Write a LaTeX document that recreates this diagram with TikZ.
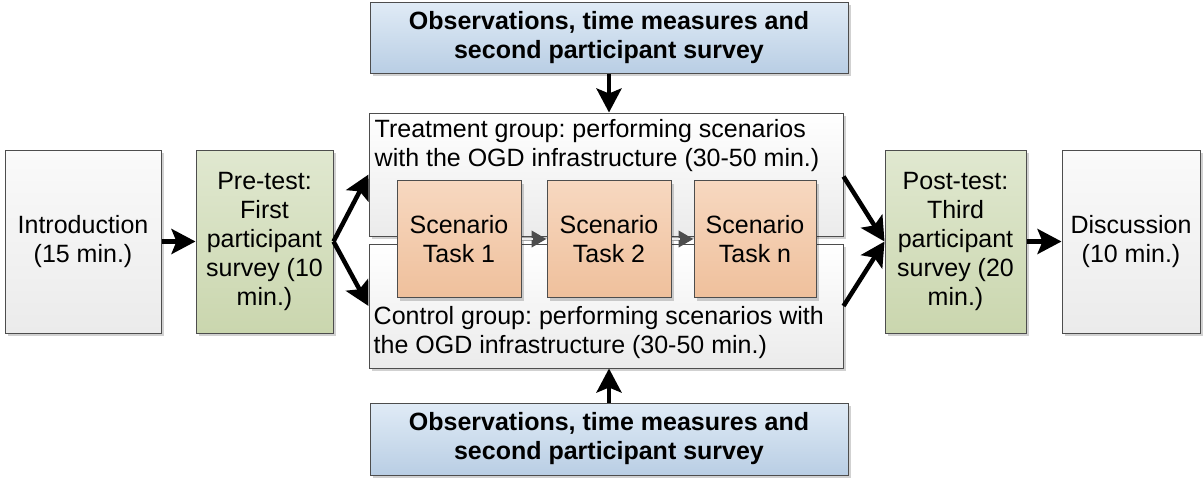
\documentclass[tikz,border=0pt]{standalone}
\usepackage{fontspec}
\setmainfont{Liberation Sans}
\frenchspacing
\usetikzlibrary{arrows.meta,shadows}
\definecolor{bordercol}{HTML}{4D4D4D}
\definecolor{greytop}{HTML}{FAFAFA}
\definecolor{greybot}{HTML}{EBEBEB}
\definecolor{greentop}{HTML}{E0E8D0}
\definecolor{greenbot}{HTML}{CAD6AE}
\definecolor{orangetop}{HTML}{F7D8C0}
\definecolor{orangebot}{HTML}{EFC09C}
\definecolor{bluetop}{HTML}{E0EBF6}
\definecolor{bluebot}{HTML}{B9CEE4}
\definecolor{scenarrow}{HTML}{4D4D4D}
\tikzset{
  basebox/.style={rectangle, draw=bordercol, line width=1pt, inner sep=0pt, align=center,
    font=\fontsize{25}{29}\selectfont,
    drop shadow={shadow xshift=3pt, shadow yshift=-3pt, fill=black, opacity=0.18}},
  greybox/.style={basebox, top color=greytop, bottom color=greybot},
  greenbox/.style={basebox, top color=greentop, bottom color=greenbot},
  orangebox/.style={basebox, top color=orangetop, bottom color=orangebot},
  bluebox/.style={basebox, top color=bluetop, bottom color=bluebot, font=\fontsize{25}{29}\selectfont\bfseries},
  groupbox/.style={basebox, top color=white, bottom color=greybot},
  grouptext/.style={inner sep=0pt, align=left, font=\fontsize{25}{29}\selectfont},
  bigarrow/.style={line width=4.5pt, draw=black, -{Stealth[length=24pt,width=25pt,inset=5pt]}},
  smallarrow/.style={line width=4.2pt, draw=gray!70,
    -{Triangle[length=15pt,width=16pt,color=scenarrow,fill=scenarrow]},
    postaction={draw=white!85!gray, line width=1.4pt, -, shorten >=14pt}}
}
\begin{document}
\begin{tikzpicture}[x=1pt,y=-1pt]
\useasboundingbox (0,0) rectangle (1204,477);
% outer boxes
\node[greybox, minimum width=156pt, minimum height=183pt] (intro) at (83,241.5) {Introduction\\(15 min.)};
\node[greenbox, minimum width=137pt, minimum height=183pt] (pre) at (264.5,241.5) {Pre-test:\\First\\participant\\survey (10\\min.)};
\node[greenbox, minimum width=141pt, minimum height=183pt] (post) at (955.5,241.5) {Post-test:\\Third\\participant\\survey (20\\min.)};
\node[greybox, minimum width=138pt, minimum height=183pt] (disc) at (1131,241.5) {Discussion\\(10 min.)};
% group boxes
\node[groupbox, minimum width=474pt, minimum height=123pt] (treat) at (606,174.5) {};
\node[groupbox, minimum width=474pt, minimum height=124pt] (ctrl) at (606,306) {};
\node[grouptext, anchor=north west] (treatT) at ([xshift=6pt,yshift=-7pt]treat.north west)
  {Treatment group: performing scenarios\\with the OGD infrastructure (30-50 min.)};
\node[grouptext, anchor=south west] (ctrlT) at ([xshift=5pt,yshift=10pt]ctrl.south west)
  {Control group: performing scenarios with\\the OGD infrastructure (30-50 min.)};
% scenario boxes
\node[orangebox, minimum width=124pt, minimum height=117pt] (s1) at (459,239) {Scenario\\Task 1};
\node[orangebox, minimum width=124pt, minimum height=117pt] (s2) at (609,239) {Scenario\\Task 2};
\node[orangebox, minimum width=122pt, minimum height=117pt] (s3) at (755,239) {Scenario\\Task n};
% observation boxes
\node[bluebox, minimum width=478pt, minimum height=71pt] (obstop) at (609,37.5) {Observations, time measures and\\second participant survey};
\node[bluebox, minimum width=478pt, minimum height=72pt] (obsbot) at (609,439) {Observations, time measures and\\second participant survey};
% arrows
\draw[bigarrow] (intro.east) -- (pre.west);
\draw[bigarrow] (pre.east) -- (treat.west);
\draw[bigarrow] (pre.east) -- (ctrl.west);
\draw[bigarrow] ([yshift=-2pt]treat.east) -- (post.west);
\draw[bigarrow] (ctrl.east) -- (post.west);
\draw[bigarrow] (post.east) -- (disc.west);
\draw[bigarrow] (obstop.south) -- (obstop.south |- treat.north);
\draw[bigarrow] (obsbot.north) -- (obsbot.north |- ctrl.south);
\draw[smallarrow] (s1.east) -- (s2.west);
\draw[smallarrow] (s2.east) -- (s3.west);
\end{tikzpicture}
\end{document}
